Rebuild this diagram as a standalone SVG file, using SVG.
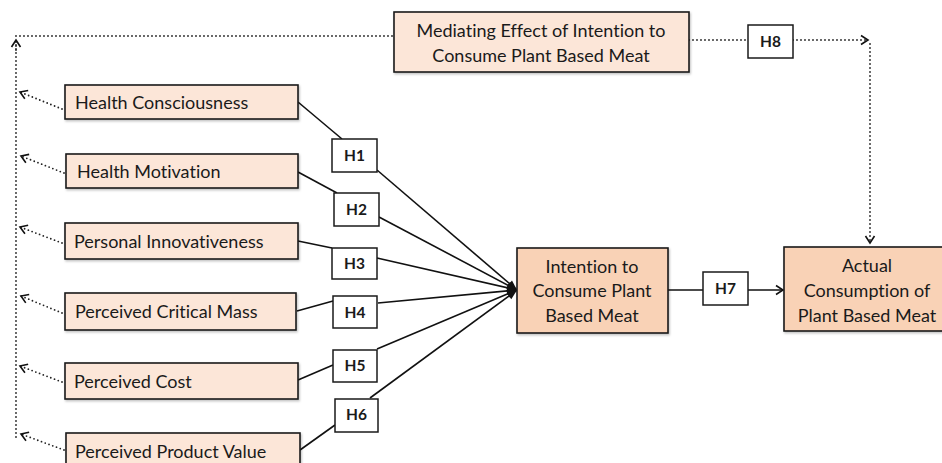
<svg xmlns="http://www.w3.org/2000/svg" width="942" height="463" viewBox="0 0 942 463">
<style>
.box{fill:#FCE6D8;stroke:#1a1a1a;stroke-width:1.6}
.main{fill:#F9D2B6;stroke:#1a1a1a;stroke-width:1.6}
.hbox{fill:#fff;stroke:#1a1a1a;stroke-width:1.5}
.t{font-family:Lato,"Open Sans",sans-serif;font-size:18px;fill:#1a1a1a;font-variant-ligatures:none}
.c{text-anchor:middle}
.h{font-family:Lato,"Open Sans",sans-serif;font-size:15.5px;font-weight:bold;fill:#1a1a1a;text-anchor:middle}
.ln{fill:none;stroke:#111;stroke-width:1.6}
.dot{fill:none;stroke:#222;stroke-width:1.8;stroke-dasharray:0 4;stroke-linecap:round}
</style>
<defs>
<marker id="open" markerWidth="12" markerHeight="12" refX="10" refY="6" orient="auto" markerUnits="userSpaceOnUse">
<path d="M3,1.5 L10,6 L3,10.5" fill="none" stroke="#111" stroke-width="1.6"/>
</marker>
<marker id="fill" markerWidth="12" markerHeight="12" refX="11" refY="6" orient="auto" markerUnits="userSpaceOnUse">
<path d="M1,2 L11,6 L1,10 Z" fill="#111"/>
</marker>
<filter id="sh" x="-5%" y="-5%" width="110%" height="120%">
<feDropShadow dx="1" dy="1.5" stdDeviation="1" flood-color="#000" flood-opacity="0.25"/>
</filter>
</defs>

<g id="connectors">
<path class="dot" d="M16,437 L16,38 M16,36 L394,36"/>
<path class="dot" d="M16,50 L16,40" marker-end="url(#open)"/>
<path class="dot" d="M689,40 L748,40 M793,40 L868,40" marker-end="url(#open)"/>
<path class="dot" d="M870,44 L870,243" marker-end="url(#open)"/>
<path class="dot" d="M62,109 L20,92" marker-end="url(#open)"/>
<path class="dot" d="M64,173 L21,156" marker-end="url(#open)"/>
<path class="dot" d="M62,243 L20,227" marker-end="url(#open)"/>
<path class="dot" d="M62,313 L21,296" marker-end="url(#open)"/>
<path class="dot" d="M62,382 L20,366" marker-end="url(#open)"/>
<path class="dot" d="M64,450 L21,434" marker-end="url(#open)"/>
<path class="ln" d="M298,102 L342,139"/>
<path class="ln" d="M298,172 L337,193"/>
<path class="ln" d="M298,241 L332,248"/>
<path class="ln" d="M297,311 L333,301"/>
<path class="ln" d="M298,380 L333,365"/>
<path class="ln" d="M300,450 L335,425"/>
<path class="ln" d="M377,170 L517,290" marker-end="url(#fill)"/>
<path class="ln" d="M379,217 L517,290" marker-end="url(#fill)"/>
<path class="ln" d="M377,258 L517,290" marker-end="url(#fill)"/>
<path class="ln" d="M378,303 L517,290" marker-end="url(#fill)"/>
<path class="ln" d="M377,349 L517,290" marker-end="url(#fill)"/>
<path class="ln" d="M370,398 L517,290" marker-end="url(#fill)"/>
<path class="ln" d="M668,290 L703,290"/>
<path class="ln" d="M748,290 L783,290" marker-end="url(#open)"/>
</g>

<g id="n-mediating">
<rect class="box" x="394" y="12" width="295" height="60" filter="url(#sh)"/>
<text class="t c" x="541" y="37">Mediating Effect of Intention to</text>
<text class="t c" x="541" y="62">Consume Plant Based Meat</text>
</g>
<g id="n-h8"><rect class="hbox" x="748" y="25" width="45" height="33"/><text class="h" x="770.5" y="47">H8</text></g>

<g id="n-hc"><rect class="box" x="65" y="85" width="233" height="34" filter="url(#sh)"/><text class="t" x="75" y="109">Health Consciousness</text></g>
<g id="n-hm"><rect class="box" x="66" y="154" width="232" height="34" filter="url(#sh)"/><text class="t" x="77" y="178">Health Motivation</text></g>
<g id="n-pi"><rect class="box" x="65" y="223" width="233" height="36" filter="url(#sh)"/><text class="t" x="74" y="248">Personal Innovativeness</text></g>
<g id="n-pcm"><rect class="box" x="65" y="293" width="231" height="37" filter="url(#sh)"/><text class="t" x="75" y="318">Perceived Critical Mass</text></g>
<g id="n-pc"><rect class="box" x="65" y="363" width="233" height="36" filter="url(#sh)"/><text class="t" x="74" y="388">Perceived Cost</text></g>
<g id="n-ppv"><rect class="box" x="66" y="433" width="234" height="36" filter="url(#sh)"/><text class="t" x="75" y="458">Perceived Product Value</text></g>

<g id="n-h1"><rect class="hbox" x="332" y="139" width="45" height="33"/><text class="h" x="354.5" y="161">H1</text></g>
<g id="n-h2"><rect class="hbox" x="334" y="193" width="45" height="33"/><text class="h" x="356.5" y="215">H2</text></g>
<g id="n-h3"><rect class="hbox" x="332" y="248" width="45" height="31"/><text class="h" x="354.5" y="269">H3</text></g>
<g id="n-h4"><rect class="hbox" x="333" y="296" width="44" height="32"/><text class="h" x="355" y="318">H4</text></g>
<g id="n-h5"><rect class="hbox" x="333" y="350" width="44" height="32"/><text class="h" x="355" y="371">H5</text></g>
<g id="n-h6"><rect class="hbox" x="335" y="399" width="43" height="33"/><text class="h" x="356.5" y="420">H6</text></g>

<g id="n-intention">
<rect class="main" x="517" y="248" width="151" height="85" filter="url(#sh)"/>
<text class="t c" x="592" y="273">Intention to</text>
<text class="t c" x="592" y="297">Consume Plant</text>
<text class="t c" x="592" y="322">Based Meat</text>
</g>
<g id="n-h7"><rect class="hbox" x="703" y="272" width="45" height="33"/><text class="h" x="725.5" y="294">H7</text></g>
<g id="n-actual">
<rect class="main" x="784" y="247" width="160" height="84" filter="url(#sh)"/>
<text class="t c" x="867" y="272">Actual</text>
<text class="t c" x="867" y="297">Consumption of</text>
<text class="t c" x="867" y="322">Plant Based Meat</text>
</g>
</svg>
